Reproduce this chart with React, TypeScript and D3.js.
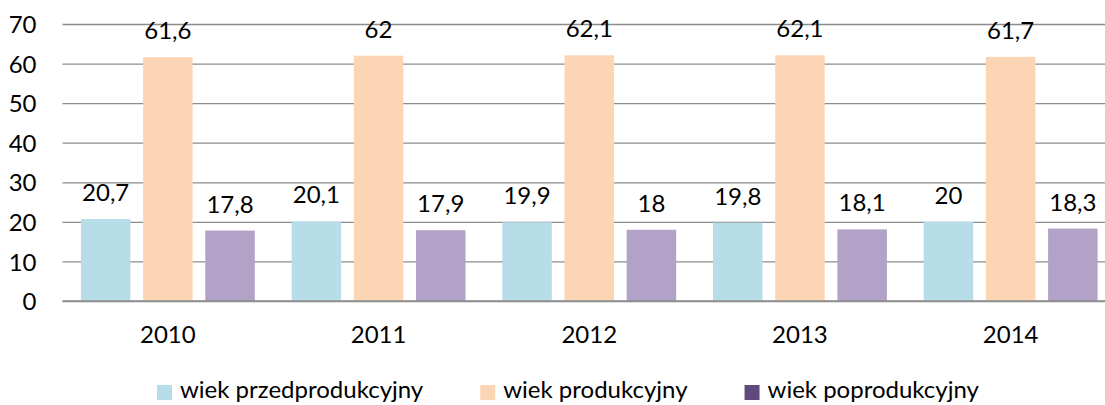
import React, { useRef, useEffect } from 'react'
import * as d3 from 'd3'

// dane: struktura ludności wg ekonomicznych grup wieku (%)
const years = ['2010', '2011', '2012', '2013', '2014']
const seriesNames = ['wiek przedprodukcyjny', 'wiek produkcyjny', 'wiek poprodukcyjny']
const przedprodukcyjny = [20.7, 20.1, 19.9, 19.8, 20]
const produkcyjny = [61.6, 62, 62.1, 62.1, 61.7]
const poprodukcyjny = [17.8, 17.9, 18, 18.1, 18.3]
const yTicks = [0, 10, 20, 30, 40, 50, 60, 70]

const barColors = ['#B7DEE8', '#FCD5B5', '#B3A2C7']
const legendColors = ['#B7DEE8', '#FCD5B5', '#604A7B']

const App = () => {
    const visEl = useRef<SVGSVGElement>(null)
    const width = 1105
    const height = 405

    useEffect(() => {
        const svg = d3.select(visEl.current)
        svg.selectAll('*').remove()

        const font = 'Lato, "Open Sans", sans-serif'
        const fontSize = 24
        const values = [przedprodukcyjny, produkcyjny, poprodukcyjny]

        const x0 = d3.scaleBand().domain(years).range([62.5, 1116]).padding(0)
        const x1 = d3.scaleBand()
            .domain(seriesNames)
            .range([0, x0.bandwidth()])
            .paddingInner(0.204)
            .paddingOuter(0.296)
        const y = d3.scaleLinear().domain([0, 70]).range([301, 24])

        // siatka
        const yAxis = d3.axisLeft(y).tickValues(yTicks).tickSize(-(width - 62.5)).tickPadding(26)
        const yAxisG = svg.append('g')
            .attr('transform', 'translate(62.5,0)')
            .call(yAxis)
        yAxisG.select('.domain').remove()
        yAxisG.selectAll('.tick line')
            .attr('stroke', '#8C8C8C')
            .attr('stroke-width', 1.3)
        yAxisG.selectAll('.tick text')
            .attr('fill', '#000')
            .attr('font-family', font)
            .attr('font-size', fontSize)
            .attr('dy', '0.36em')

        // słupki
        const groups = svg.append('g').selectAll('g')
            .data(years)
            .join('g')
            .attr('transform', d => `translate(${x0(d)},0)`)

        groups.selectAll('rect')
            .data((d, i) => seriesNames.map((s, j) => ({ s, j, v: values[j][i] })))
            .join('rect')
            .attr('x', d => x1(d.s)!)
            .attr('y', d => y(d.v))
            .attr('width', x1.bandwidth())
            .attr('height', d => y(0) - y(d.v))
            .attr('fill', d => barColors[d.j])

        groups.selectAll('text')
            .data((d, i) => seriesNames.map((s, j) => ({ s, j, v: values[j][i] })))
            .join('text')
            .attr('x', d => x1(d.s)! + x1.bandwidth() / 2)
            .attr('y', d => y(d.v) - 18)
            .attr('text-anchor', 'middle')
            .attr('font-family', font)
            .attr('font-size', fontSize)
            .attr('fill', '#000')
            .text(d => String(d.v).replace('.', ','))

        // oś X
        const xAxis = d3.axisBottom(x0).tickSize(0).tickPadding(25)
        const xAxisG = svg.append('g')
            .attr('transform', 'translate(0,301)')
            .call(xAxis)
        xAxisG.select('.domain')
            .attr('stroke', '#8C8C8C')
            .attr('stroke-width', 1.3)
            .attr('d', `M62.5,0H${width}`)
        xAxisG.selectAll('.tick text')
            .attr('fill', '#000')
            .attr('font-family', font)
            .attr('font-size', fontSize)
            .attr('dy', '0.71em')

        // legenda
        const legend = svg.append('g')
        let lx = 157
        seriesNames.forEach((name, i) => {
            legend.append('rect')
                .attr('x', lx)
                .attr('y', 385)
                .attr('width', 15)
                .attr('height', 15)
                .attr('fill', legendColors[i])
            const t = legend.append('text')
                .attr('x', lx + 23)
                .attr('y', 398)
                .attr('font-family', font)
                .attr('font-size', fontSize)
                .attr('fill', '#000')
                .text(name)
            const w = (t.node() as SVGTextElement).getComputedTextLength()
            lx = lx + 23 + w + 57
        })
    }, [])

    return (
        <svg
            ref={visEl}
            width={width}
            height={height}
            style={{ position: 'absolute', left: 0, top: 0, background: '#fff' }}
        />
    )
}

export default App
